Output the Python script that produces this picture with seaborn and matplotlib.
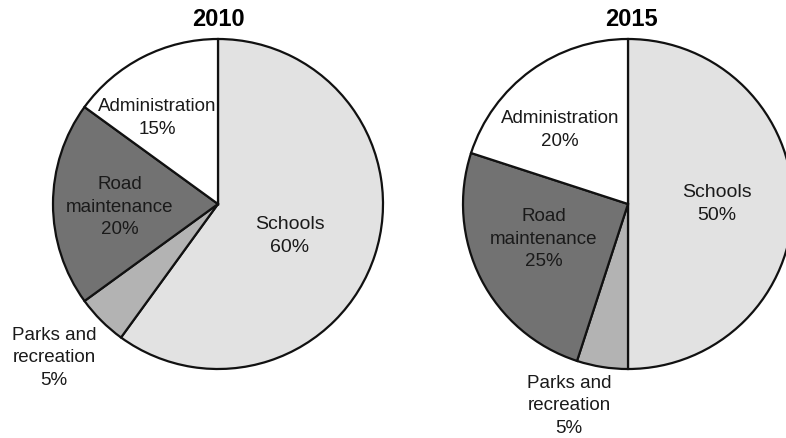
"""Two pie charts: city budget shares, 2010 vs 2015."""

import matplotlib
matplotlib.use('Agg')
import matplotlib.pyplot as plt
import seaborn as sns

# ---------------------------------------------------------------------------
# Data
# ---------------------------------------------------------------------------

CATEGORIES = ['Schools', 'Parks and\nrecreation', 'Road\nmaintenance', 'Administration']
SHARES_2010 = [60, 5, 20, 15]
SHARES_2015 = [50, 5, 25, 20]
YEARS = ['2010', '2015']

COLORS = {
    'Schools': '#e2e2e2',
    'Parks and\nrecreation': '#b3b3b3',
    'Road\nmaintenance': '#727272',
    'Administration': '#ffffff',
}

# ---------------------------------------------------------------------------
# Layout (figure pixels, y measured from top)
# ---------------------------------------------------------------------------

W, H = 786, 438
PIE_CENTERS = [(218, 204), (628, 204)]
RADIUS = 165
TITLE_POS = [(218, 20), (631, 20)]

# label positions per pie, same order as CATEGORIES
LABEL_POS = [
    [(290, 236), (54, 358), (120, 207), (157, 118)],
    [(717, 204), (569, 406), (544, 239), (560, 130)],
]

sns.set_theme(style='white')
plt.rcParams['font.family'] = ['Liberation Sans', 'DejaVu Sans']

fig = plt.figure(figsize=(W / 100, H / 100), dpi=100)
ax = fig.add_axes([0, 0, 1, 1])

for year, shares, center, tpos, lpos in zip(
        YEARS, [SHARES_2010, SHARES_2015], PIE_CENTERS, TITLE_POS, LABEL_POS):
    cx, cy = center[0], H - center[1]
    ax.pie(shares, colors=[COLORS[c] for c in CATEGORIES],
           startangle=90, counterclock=False,
           center=(cx, cy), radius=RADIUS, frame=True,
           wedgeprops=dict(edgecolor='#111111', linewidth=1.6))
    ax.text(tpos[0], H - tpos[1], year, ha='center', va='center',
            fontsize=17, fontweight='bold', color='black')
    for cat, share, (lx, ly) in zip(CATEGORIES, shares, lpos):
        size = 14 if cat == 'Schools' else 13.5
        ax.text(lx, H - ly, f'{cat}\n{share}%', ha='center', va='center',
                fontsize=size, color='#1a1a1a', linespacing=1.4)

ax.set_xlim(0, W)
ax.set_ylim(0, H)
ax.set_aspect('equal')
ax.axis('off')

fig.savefig('out.png', dpi=100)
